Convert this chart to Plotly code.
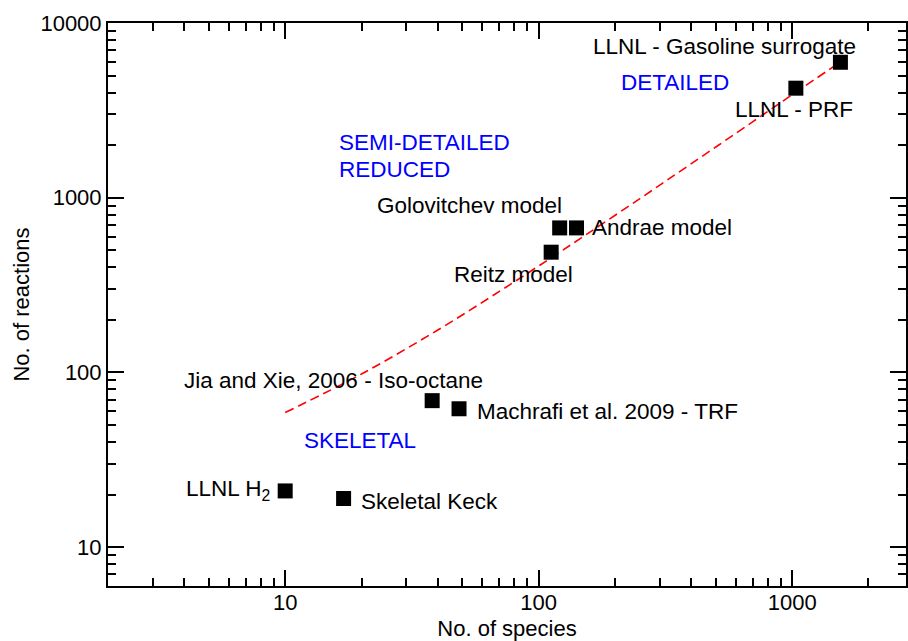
import numpy as np
import plotly.graph_objects as go

# ---- data ----
models = ["LLNL H2", "Skeletal Keck", "Jia and Xie, 2006 - Iso-octane",
          "Machrafi et al. 2009 - TRF", "Reitz model", "Golovitchev model",
          "Andrae model", "LLNL - PRF", "LLNL - Gasoline surrogate"]
species = [10, 17, 38, 48.5, 112, 121, 141, 1034, 1550]
reactions = [21, 19, 69, 62, 488, 672, 672, 4236, 5960]
label_text = ["LLNL H<sub>2</sub>", "Skeletal Keck", "Jia and Xie, 2006 - Iso-octane",
              "Machrafi et al. 2009 - TRF", "Reitz model", "Golovitchev model",
              "Andrae model", "LLNL - PRF", "LLNL - Gasoline surrogate"]

# dashed red trend line
fit_x = [10, 20, 40, 70, 100, 150, 250, 400, 700, 1000, 1550]
fit_y = [59, 98, 175, 291, 407, 600, 986, 1566, 2726, 3885, 5990]

# category labels (blue)
cat_text = ["SEMI-DETAILED", "REDUCED", "DETAILED", "SKELETAL"]
cat_x = [16.0, 16.0, 208, 11.6]
cat_y = [2075, 1450, 4548, 40.9]

x_ticks = [10, 100, 1000]
x_ticklabels = ["10", "100", "1000"]
y_ticks = [10, 100, 1000, 10000]
y_ticklabels = ["10", "100", "1000", "10000"]

# ---- styling ----
FONT = "Liberation Sans, Arial, Helvetica, sans-serif"
FS = 22
FSA = 22.5
# label placement: (xanchor, xshift, yshift) in pixels relative to point
label_place = [
    ("right", -13, 1),
    ("left", 15, -3),
    ("right", 53, 20),
    ("left", 16, -3),
    ("center", -38, -22),
    ("right", 4, 22),
    ("left", 13, 0),
    ("center", -2, -21),
    ("right", 18, 16),
]

fig = go.Figure()
fig.add_trace(go.Scatter(
    x=fit_x, y=fit_y, mode="lines",
    line=dict(color="#ff0000", width=1.6, dash="9px,5px", shape="spline"),
    hoverinfo="skip", showlegend=False))
fig.add_trace(go.Scatter(
    x=species, y=reactions, mode="markers",
    marker=dict(symbol="square", size=15, color="black", line=dict(width=0)),
    text=models, showlegend=False))

annotations = []
for sx, ry, txt, (xa, xs, ys) in zip(species, reactions, label_text, label_place):
    annotations.append(dict(
        x=np.log10(sx), y=np.log10(ry), xref="x", yref="y", text=txt,
        showarrow=False, xanchor=xa, yanchor="middle", xshift=xs, yshift=ys,
        font=dict(family=FONT, size=FSA, color="black")))
for t, cx, cy in zip(cat_text, cat_x, cat_y):
    annotations.append(dict(
        x=np.log10(cx), y=np.log10(cy), xref="x", yref="y", text=t,
        showarrow=False, xanchor="left", yanchor="middle",
        font=dict(family=FONT, size=FSA, color="#0000ff")))

minor_vals = [d * 10 ** k for k in range(0, 4) for d in range(2, 10)]

axis_common = dict(
    type="log", showgrid=False, zeroline=False,
    showline=True, linecolor="black", linewidth=2, mirror="allticks",
    ticks="inside", ticklen=16, tickwidth=1.5, tickcolor="black",
    tickfont=dict(family=FONT, size=FS, color="black"),
    minor=dict(ticks="inside", ticklen=8, tickwidth=1.5, tickcolor="black",
               tickmode="array", tickvals=minor_vals, showgrid=False),
)

fig.update_layout(
    width=908, height=641,
    margin=dict(l=108, r=0, t=23, b=53),
    paper_bgcolor="white", plot_bgcolor="white",
    font=dict(family=FONT, size=FS, color="black"),
    xaxis=dict(axis_common, range=[np.log10(2), np.log10(2812)],
               tickmode="array", tickvals=x_ticks, ticktext=x_ticklabels,
               ticklabelstandoff=-4,
               title=dict(text="No. of species", standoff=10,
                          font=dict(family=FONT, size=FS, color="black"))),
    yaxis=dict(axis_common, range=[np.log10(6), 4],
               tickmode="array", tickvals=y_ticks, ticktext=y_ticklabels,
               title=dict(text="No. of reactions", standoff=5,
                          font=dict(family=FONT, size=FS, color="black"))),
    annotations=annotations,
)

fig.write_html("out.html")
